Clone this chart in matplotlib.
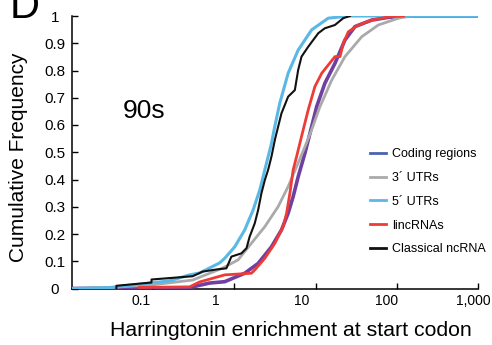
import matplotlib
matplotlib.use("Agg")
import matplotlib.pyplot as plt
from matplotlib.lines import Line2D
from matplotlib.transforms import ScaledTranslation

plt.rcParams['font.family'] = ['Liberation Sans', 'DejaVu Sans']

# Coding regions
coding_x = [0.01, 0.281, 0.306, 0.495, 0.76, 1.34, 1.96, 2.86, 3.80, 4.59, 5.29, 6.10, 7.38, 8.53, 10.3, 13.0, 17.3, 23.0, 30.5, 49.1, 78.8, 127, 1000]
coding_y = [0.0, 0.002, 0.006, 0.02, 0.025, 0.056, 0.092, 0.153, 0.215, 0.276, 0.337, 0.410, 0.496, 0.570, 0.667, 0.753, 0.826, 0.912, 0.961, 0.985, 0.995, 1.0, 1.0]

# 3' UTRs
utr3_x = [0.01, 0.0352, 0.0953, 0.306, 0.717, 1.11, 1.62, 2.37, 3.45, 4.59, 5.83, 7.38, 8.93, 11.3, 15.8, 23.0, 37.0, 59.3, 105, 153, 1000]
utr3_y = [0.0, 0.005, 0.013, 0.031, 0.075, 0.105, 0.166, 0.227, 0.300, 0.374, 0.447, 0.520, 0.582, 0.667, 0.765, 0.851, 0.924, 0.967, 0.992, 1.0, 1.0]

# 5' UTRs
utr5_x = [0.01, 0.0288, 0.159, 0.281, 0.373, 0.659, 0.76, 1.01, 1.34, 1.70, 2.05, 2.48, 2.86, 3.08, 3.62, 4.59, 6.10, 8.93, 14.3, 25.3, 1000]
utr5_y = [0.0, 0.003, 0.028, 0.050, 0.057, 0.094, 0.111, 0.153, 0.215, 0.288, 0.361, 0.459, 0.532, 0.582, 0.680, 0.790, 0.875, 0.949, 0.992, 1.0, 1.0]

# lincRNAs
linc_x = [0.0678, 0.281, 0.373, 0.76, 1.62, 1.78, 2.37, 3.15, 3.98, 4.39, 4.82, 5.29, 5.83, 6.40, 7.03, 8.10, 9.8, 11.9, 17.3, 20.0, 21.9, 25.3, 33.6, 49.1, 78.8, 121]
linc_y = [0.004, 0.006, 0.024, 0.050, 0.056, 0.068, 0.111, 0.166, 0.227, 0.276, 0.349, 0.435, 0.484, 0.533, 0.582, 0.655, 0.741, 0.790, 0.851, 0.851, 0.900, 0.942, 0.967, 0.985, 0.997, 1.0]

# Classical ncRNA
nc_x = [0.0352, 0.0352, 0.0953, 0.0953, 0.306, 0.406, 0.605, 0.797, 0.918, 1.22, 1.41, 1.54, 1.78, 1.96, 2.15, 2.37, 2.60, 2.86, 3.15, 3.30, 3.80, 4.59, 5.55, 6.10, 6.71, 8.10, 10.8, 13.0, 17.3, 21.9, 26.5]
nc_y = [0.0, 0.01, 0.022, 0.033, 0.045, 0.062, 0.07, 0.074, 0.117, 0.129, 0.148, 0.190, 0.239, 0.288, 0.349, 0.398, 0.435, 0.484, 0.545, 0.570, 0.643, 0.704, 0.728, 0.802, 0.851, 0.887, 0.937, 0.955, 0.967, 0.992, 1.0]

legend_labels = ["Coding regions", "3\u00b4 UTRs", "5\u00b4 UTRs", "lincRNAs", "Classical ncRNA"]
xtick_vals = [0.1, 1, 10, 100, 1000]
xtick_labels = ["0.1", "1", "10", "100", "1,000"]
ytick_vals = [0, 0.1, 0.2, 0.3, 0.4, 0.5, 0.6, 0.7, 0.8, 0.9, 1]
ytick_labels = ["0", "0.1", "0.2", "0.3", "0.4", "0.5", "0.6", "0.7", "0.8", "0.9", "1"]

c_coding = "#7040a0"
c_coding_leg = "#4a62b0"
c_utr3 = "#aaaaaa"
c_utr5 = "#5ab8e6"
c_linc = "#ee3b36"
c_nc = "#111111"

fig = plt.figure(figsize=(4.92, 3.45), dpi=100)
ax = fig.add_axes([72/492, 1 - 288.5/345, (478-72)/492, (288.5-16)/345])

ax.plot(coding_x, coding_y, color=c_coding, lw=2.6, zorder=3)
ax.plot(utr3_x, utr3_y, color=c_utr3, lw=2.0, zorder=3)
ax.plot(utr5_x, utr5_y, color=c_utr5, lw=2.2, zorder=3)
ax.plot(linc_x, linc_y, color=c_linc, lw=2.0, zorder=3)
ax.plot(nc_x, nc_y, color=c_nc, lw=1.5, zorder=3)

ax.set_xscale('log')
ax.set_xlim(0.01, 1000)
ax.set_ylim(0, 1)
ax.set_xticks(xtick_vals)
ax.set_xticklabels(xtick_labels)
ax.minorticks_off()
ax.set_yticks(ytick_vals)
ax.set_yticklabels(ytick_labels)
ax.tick_params(direction='in', length=4, width=1)
ax.tick_params(axis='x', pad=4, labelsize=10)
ax.tick_params(axis='y', pad=12.2, labelsize=11)
for lbl in ax.get_yticklabels():
    lbl.set_ha('center')
offset = ScaledTranslation(-22/100, 0, fig.dpi_scale_trans)
for lbl in ax.get_xticklabels():
    lbl.set_ha('left')
    lbl.set_transform(lbl.get_transform() + offset)
for s in ['top', 'right']:
    ax.spines[s].set_visible(False)
for s in ['left', 'bottom']:
    ax.spines[s].set_linewidth(1.1)

ax.set_xlabel("Harringtonin enrichment at start codon", fontsize=15.3)
ax.xaxis.set_label_coords((291-72)/406, -(321-288.5)/272.5)
ax.set_ylabel("Cumulative Frequency", fontsize=15)
ax.yaxis.set_label_coords((28-72)/406, (288.5-157)/272.5)

ax.text(0.077, 0.65, "90s", fontsize=19, ha='center', va='center')
fig.text(10/492, 1 - 18/345, "D", fontsize=30, ha='left', va='baseline')

handles = [Line2D([], [], color=c, lw=2) for c in [c_coding_leg, c_utr3, c_utr5, c_linc, c_nc]]
ax.legend(handles, legend_labels, loc='upper left', bbox_to_anchor=((370-72)/406, (288.5-148)/272.5),
          frameon=False, fontsize=9, handlelength=1.3, handletextpad=0.5, labelspacing=0.95,
          borderpad=0, borderaxespad=0)

fig.savefig("out.png", dpi=100)
